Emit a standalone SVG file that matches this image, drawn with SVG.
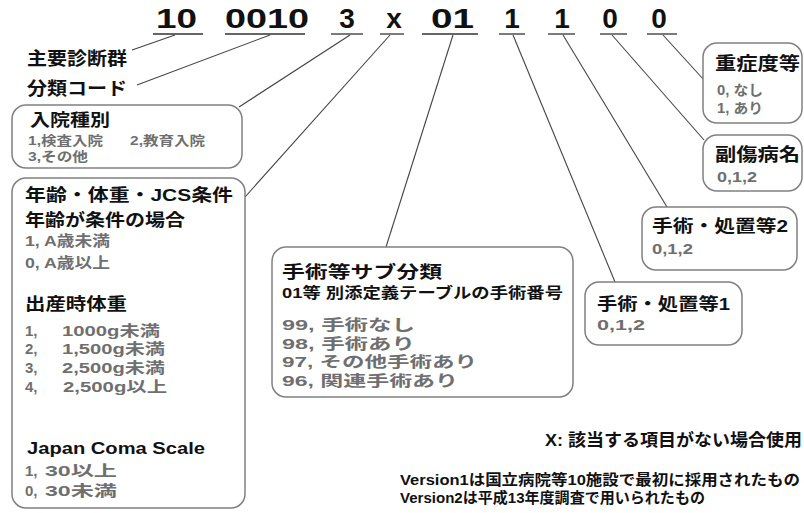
<svg xmlns="http://www.w3.org/2000/svg" width="804" height="513" viewBox="0 0 804 513">
<style>
text{font-family:"Liberation Sans","Noto Sans CJK JP",sans-serif;font-weight:bold;fill:#111}
.code{font-size:28px;fill:#111}
.g{fill:#6f6f6f}
.box{fill:#fff;stroke:#808080;stroke-width:1.5}
.ul{stroke:#333;stroke-width:1.3}
.con line{stroke:#444;stroke-width:1.1}
</style>
<rect width="804" height="513" fill="#fff"/>
<g id="code">
<text class="code" x="156" y="28" textLength="41" lengthAdjust="spacingAndGlyphs">10</text>
<text class="code" x="225" y="28" textLength="84" lengthAdjust="spacingAndGlyphs">0010</text>
<text class="code" x="347" y="28" text-anchor="middle">3</text>
<text class="code" x="394" y="28" text-anchor="middle">x</text>
<text class="code" x="431" y="28" textLength="43" lengthAdjust="spacingAndGlyphs">01</text>
<text class="code" x="512" y="28" text-anchor="middle">1</text>
<text class="code" x="562" y="28" text-anchor="middle">1</text>
<text class="code" x="610" y="28" text-anchor="middle">0</text>
<text class="code" x="659" y="28" text-anchor="middle">0</text>
<line class="ul" x1="153" y1="34" x2="203" y2="34"/>
<line class="ul" x1="225" y1="34" x2="305" y2="34"/>
<line class="ul" x1="331" y1="34" x2="363" y2="34"/>
<line class="ul" x1="380" y1="34" x2="404" y2="34"/>
<line class="ul" x1="422" y1="34" x2="478" y2="34"/>
<line class="ul" x1="499" y1="34" x2="525" y2="34"/>
<line class="ul" x1="548" y1="34" x2="575" y2="34"/>
<line class="ul" x1="600" y1="34" x2="627" y2="34"/>
<line class="ul" x1="647" y1="34" x2="677" y2="34"/>
</g>
<g id="connectors" class="con">
<line x1="175" y1="35" x2="132" y2="50"/>
<line x1="270" y1="35" x2="137" y2="85"/>
<line x1="350" y1="35" x2="239" y2="107"/>
<line x1="390" y1="35" x2="245" y2="197"/>
<line x1="453" y1="35" x2="386" y2="247"/>
<line x1="513" y1="35" x2="615" y2="282"/>
<line x1="563" y1="35" x2="667" y2="207"/>
<line x1="612" y1="35" x2="704" y2="140"/>
<line x1="663" y1="35" x2="704" y2="80"/>
</g>
<g id="shuyo">
<text x="27" y="65" font-size="18" textLength="100" lengthAdjust="spacingAndGlyphs">主要診断群</text>
</g>
<g id="bunrui">
<text x="27" y="95" font-size="18" textLength="100" lengthAdjust="spacingAndGlyphs">分類コード</text>
</g>
<g id="nyuin">
<rect class="box" x="12" y="105" width="230" height="63" rx="14"/>
<text x="30" y="126" font-size="17" textLength="80" lengthAdjust="spacingAndGlyphs">入院種別</text>
<text class="g" x="28" y="145" font-size="13" textLength="75" lengthAdjust="spacingAndGlyphs">1,検査入院</text>
<text class="g" x="130" y="145" font-size="13" textLength="75" lengthAdjust="spacingAndGlyphs">2,教育入院</text>
<text class="g" x="28" y="161" font-size="13" textLength="60" lengthAdjust="spacingAndGlyphs">3,その他</text>
</g>
<g id="joken">
<rect class="box" x="12" y="178" width="233" height="330" rx="14"/>
<text x="25" y="201" font-size="17" textLength="208" lengthAdjust="spacingAndGlyphs">年齢・体重・JCS条件</text>
<text x="25" y="226" font-size="17" textLength="160" lengthAdjust="spacingAndGlyphs">年齢が条件の場合</text>
<text class="g" x="25" y="246" font-size="15" textLength="85" lengthAdjust="spacingAndGlyphs">1, A歳未満</text>
<text class="g" x="25" y="268" font-size="15" textLength="85" lengthAdjust="spacingAndGlyphs">0, A歳以上</text>
<text x="25" y="310" font-size="17" textLength="102" lengthAdjust="spacingAndGlyphs">出産時体重</text>
<text class="g" x="25" y="336" font-size="15">1,</text>
<text class="g" x="62" y="336" font-size="15" textLength="98" lengthAdjust="spacingAndGlyphs">1000g未満</text>
<text class="g" x="25" y="354" font-size="15">2,</text>
<text class="g" x="62" y="354" font-size="15" textLength="103" lengthAdjust="spacingAndGlyphs">1,500g未満</text>
<text class="g" x="25" y="373" font-size="15">3,</text>
<text class="g" x="62" y="373" font-size="15" textLength="103" lengthAdjust="spacingAndGlyphs">2,500g未満</text>
<text class="g" x="25" y="392" font-size="15">4,</text>
<text class="g" x="63" y="392" font-size="15" textLength="104" lengthAdjust="spacingAndGlyphs">2,500g以上</text>
<text x="27" y="454" font-size="17" textLength="178" lengthAdjust="spacingAndGlyphs">Japan Coma Scale</text>
<text class="g" x="25" y="476" font-size="15">1,</text>
<text class="g" x="45" y="476" font-size="15" textLength="72" lengthAdjust="spacingAndGlyphs">30以上</text>
<text class="g" x="25" y="496" font-size="15">0,</text>
<text class="g" x="45" y="496" font-size="15" textLength="72" lengthAdjust="spacingAndGlyphs">30未満</text>
</g>
<g id="sub">
<rect class="box" x="272" y="247" width="301" height="150" rx="14"/>
<text x="282" y="278" font-size="17" textLength="160" lengthAdjust="spacingAndGlyphs">手術等サブ分類</text>
<text x="282" y="298" font-size="15" textLength="281" lengthAdjust="spacingAndGlyphs">01等 別添定義テーブルの手術番号</text>
<text class="g" x="282" y="330" font-size="15" textLength="133" lengthAdjust="spacingAndGlyphs">99, 手術なし</text>
<text class="g" x="282" y="349" font-size="15" textLength="133" lengthAdjust="spacingAndGlyphs">98, 手術あり</text>
<text class="g" x="282" y="367" font-size="15" textLength="195" lengthAdjust="spacingAndGlyphs">97, その他手術あり</text>
<text class="g" x="282" y="386" font-size="15" textLength="176" lengthAdjust="spacingAndGlyphs">96, 関連手術あり</text>
</g>
<g id="jusho">
<rect class="box" x="703" y="43" width="99" height="80" rx="14"/>
<text x="715" y="70" font-size="18" textLength="85" lengthAdjust="spacingAndGlyphs">重症度等</text>
<text class="g" x="717" y="95" font-size="14" textLength="46" lengthAdjust="spacingAndGlyphs">0, なし</text>
<text class="g" x="717" y="113" font-size="14" textLength="46" lengthAdjust="spacingAndGlyphs">1, あり</text>
</g>
<g id="fukusho">
<rect class="box" x="703" y="135" width="99" height="56" rx="14"/>
<text x="715" y="161" font-size="18" textLength="85" lengthAdjust="spacingAndGlyphs">副傷病名</text>
<text class="g" x="717" y="182" font-size="14" textLength="40" lengthAdjust="spacingAndGlyphs">0,1,2</text>
</g>
<g id="shochi2">
<rect class="box" x="642" y="207" width="155" height="63" rx="14"/>
<text x="652" y="232" font-size="17" textLength="136" lengthAdjust="spacingAndGlyphs">手術・処置等2</text>
<text class="g" x="652" y="254" font-size="14" textLength="41" lengthAdjust="spacingAndGlyphs">0,1,2</text>
</g>
<g id="shochi1">
<rect class="box" x="585" y="282" width="157" height="63" rx="14"/>
<text x="597" y="310" font-size="17" textLength="133" lengthAdjust="spacingAndGlyphs">手術・処置等1</text>
<text class="g" x="597" y="330" font-size="14" textLength="48" lengthAdjust="spacingAndGlyphs">0,1,2</text>
</g>
<g id="notes">
<text x="545" y="446" font-size="17" textLength="257" lengthAdjust="spacingAndGlyphs">X: 該当する項目がない場合使用</text>
<text x="400" y="485" font-size="15" textLength="400" lengthAdjust="spacingAndGlyphs">Version1は国立病院等10施設で最初に採用されたもの</text>
<text x="400" y="503" font-size="15" textLength="305" lengthAdjust="spacingAndGlyphs">Version2は平成13年度調査で用いられたもの</text>
</g>
</svg>
